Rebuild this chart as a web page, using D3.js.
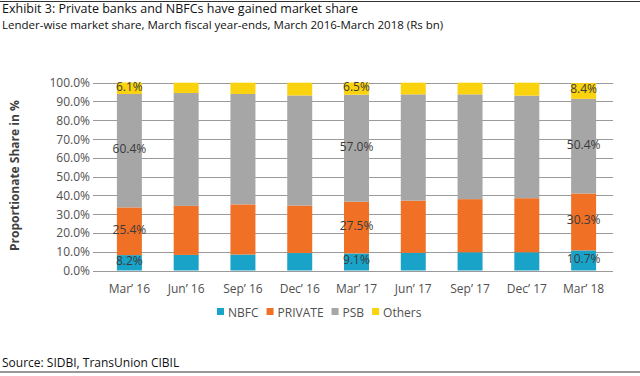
<!DOCTYPE html>
<html>
<head>
<meta charset="utf-8">
<script src="https://cdn.jsdelivr.net/npm/d3@7"></script>
<style>
  html, body { margin: 0; padding: 0; background: #fff; }
  svg { display: block; }
  .ttl { font-family: "Open Sans", sans-serif; fill: #111; }
  .chart text { font-family: "Open Sans", sans-serif; }
</style>
</head>
<body>
<div id="chart"></div>
<script>
// lender-wise market share, % of total
const periods = ["Mar’ 16", "Jun’ 16", "Sep’ 16", "Dec’ 16", "Mar’ 17", "Jun’ 17", "Sep’ 17", "Dec’ 17", "Mar’ 18"];
const nbfc    = [8.2, 8.3, 8.5, 9.3, 9.1, 9.4, 9.7, 9.7, 10.7];
const priv    = [25.4, 26.1, 26.7, 25.3, 27.5, 27.8, 28.3, 28.8, 30.3];
const psb     = [60.4, 60.1, 58.8, 58.6, 57.0, 56.6, 55.8, 54.6, 50.4];
const others  = [6.1, 5.5, 6.0, 6.8, 6.5, 6.2, 6.2, 6.9, 8.4];
const seriesNames = ["NBFC", "PRIVATE", "PSB", "Others"];
const yTicks = [0, 10, 20, 30, 40, 50, 60, 70, 80, 90, 100];
const labelled = ["Mar’ 16", "Mar’ 17", "Mar’ 18"];   // bars that carry value labels

const COLORS = { NBFC: '#1aa3c9', PRIVATE: '#f07125', PSB: '#a6a6a6', Others: '#fbd20e' };
const W = 640, H = 376;

const rows = periods.map((p, i) => ({
  period: p, NBFC: nbfc[i], PRIVATE: priv[i], PSB: psb[i], Others: others[i]
}));

const svg = d3.select('#chart').append('svg')
  .attr('class', 'chart')
  .attr('width', W).attr('height', H);

// header / footer rules and text
svg.append('line').attr('x1', 0).attr('x2', W).attr('y1', 1.5).attr('y2', 1.5)
  .attr('stroke', '#333').attr('stroke-width', 1.2);
svg.append('text').attr('class', 'ttl').attr('x', 2).attr('y', 13)
  .attr('font-size', 12.5).text('Exhibit 3: Private banks and NBFCs have gained market share');
svg.append('text').attr('class', 'ttl').attr('x', 2).attr('y', 29)
  .attr('font-size', 11.5).attr('fill', '#222')
  .text('Lender-wise market share, March fiscal year-ends, March 2016-March 2018 (Rs bn)');
svg.append('text').attr('class', 'ttl').attr('x', 2).attr('y', 367)
  .attr('font-size', 12).attr('fill', '#222').text('Source: SIDBI, TransUnion CIBIL');
svg.append('line').attr('x1', 0).attr('x2', W).attr('y1', 372).attr('y2', 372)
  .attr('stroke', '#333').attr('stroke-width', 1.2);

const x = d3.scaleBand().domain(periods).range([101, 612]).paddingInner(0.56).paddingOuter(0.28);
const y = d3.scaleLinear().domain([0, 100]).range([270.5, 82.7]);

// gridlines
svg.append('g').selectAll('line').data(yTicks).join('line')
  .attr('x1', 93).attr('x2', 613)
  .attr('y1', d => Math.round(y(d)) + 0.5).attr('y2', d => Math.round(y(d)) + 0.5)
  .attr('stroke', '#9a9a9a').attr('stroke-width', 1);

// y tick labels
svg.append('g').selectAll('text').data(yTicks).join('text')
  .attr('x', 90).attr('y', d => y(d))
  .attr('text-anchor', 'end').attr('dominant-baseline', 'central')
  .attr('font-size', 12).attr('fill', '#505050')
  .text(d => d.toFixed(1) + '%');

svg.append('text')
  .attr('transform', `translate(19,${(y(0) + y(100)) / 2 - 1}) rotate(-90)`)
  .attr('text-anchor', 'middle')
  .attr('font-size', 12).attr('font-weight', 700).attr('fill', '#404040')
  .text('Proportionate Share in %');

// stacked bars
const stack = d3.stack().keys(seriesNames)(rows);

const layers = svg.append('g').selectAll('g').data(stack).join('g')
  .attr('fill', d => COLORS[d.key]);
layers.selectAll('rect').data(d => d).join('rect')
  .attr('x', d => x(d.data.period))
  .attr('width', x.bandwidth())
  .attr('y', d => y(d[1]))
  .attr('height', d => y(d[0]) - y(d[1]));

// value labels
const lab = svg.append('g');
stack.forEach(layer => {
  layer.filter(d => labelled.includes(d.data.period)).forEach(d => {
    lab.append('text')
      .attr('x', x(d.data.period) + x.bandwidth() / 2)
      .attr('y', y((d[0] + d[1]) / 2) - 2)
      .attr('text-anchor', 'middle').attr('dominant-baseline', 'central')
      .attr('font-size', 12).attr('fill', '#3a3a3a')
      .text(d.data[layer.key].toFixed(1) + '%');
  });
});

// x labels
svg.append('g').selectAll('text').data(periods).join('text')
  .attr('x', d => x(d) + x.bandwidth() / 2).attr('y', 288)
  .attr('text-anchor', 'middle').attr('dominant-baseline', 'central')
  .attr('font-size', 12).attr('fill', '#505050')
  .text(d => d);

// legend
const leg = svg.append('g');
let lx = 217;
seriesNames.forEach(name => {
  leg.append('rect').attr('x', lx).attr('y', 308).attr('width', 7).attr('height', 7)
    .attr('fill', COLORS[name]);
  const t = leg.append('text').attr('x', lx + 11).attr('y', 312)
    .attr('dominant-baseline', 'central')
    .attr('font-size', 12).attr('fill', '#505050').text(name);
  lx += 11 + t.node().getComputedTextLength() + 8;
});
</script>
</body>
</html>
